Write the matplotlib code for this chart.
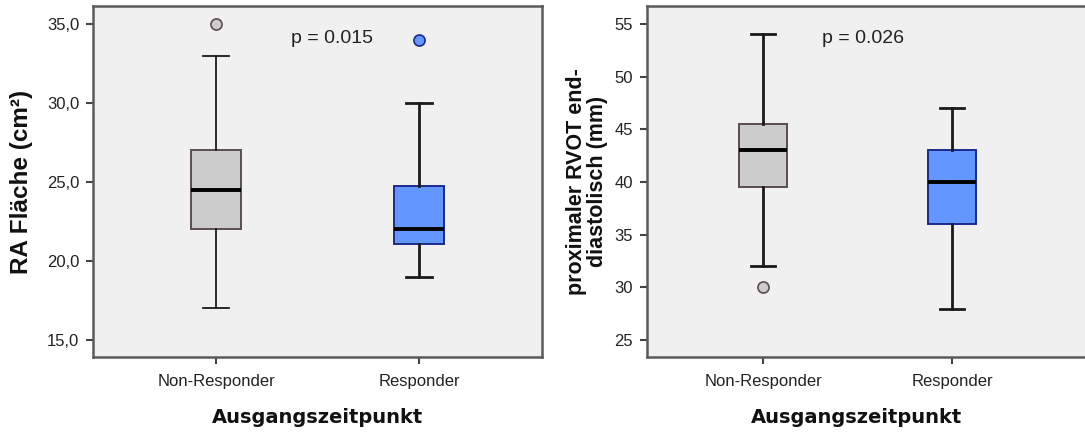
import matplotlib
matplotlib.use("Agg")
import matplotlib.pyplot as plt

plt.rcParams['font.family'] = ['Liberation Sans', 'DejaVu Sans']

groups = ["Non-Responder", "Responder"]

# RA Fläche (cm²)
ra_whislo = [17.0, 19.0]
ra_q1 = [22.0, 21.1]
ra_med = [24.5, 22.0]
ra_q3 = [27.0, 24.75]
ra_whishi = [33.0, 30.0]
ra_fliers = [[35.0], [34.0]]
ra_yticks = [15, 20, 25, 30, 35]
ra_p = "p = 0.015"

# proximaler RVOT enddiastolisch (mm)
rvot_whislo = [32.0, 28.0]
rvot_q1 = [39.5, 36.0]
rvot_med = [43.0, 40.0]
rvot_q3 = [45.5, 43.0]
rvot_whishi = [54.0, 47.0]
rvot_fliers = [[30.0], []]
rvot_yticks = [25, 30, 35, 40, 45, 50, 55]
rvot_p = "p = 0.026"

BG = "#f0f0f0"
GREY_FILL = "#cccccc"
GREY_EDGE = "#5a4d4d"
BLUE_FILL = "#6496ff"
BLUE_EDGE = "#1c2a8c"


def make_stats(whislo, q1, med, q3, whishi, fliers):
    stats = []
    for i in range(len(groups)):
        stats.append(dict(label=groups[i], whislo=whislo[i], q1=q1[i], med=med[i],
                          q3=q3[i], whishi=whishi[i], fliers=fliers[i]))
    return stats


def draw_panel(ax, stats, thin_first):
    fills = [GREY_FILL, BLUE_FILL]
    edges = [GREY_EDGE, BLUE_EDGE]
    for i, st in enumerate(stats):
        wlw = 1.3 if (i == 0 and thin_first) else 2.0
        ax.bxp([st], positions=[i + 1], widths=0.25, patch_artist=True,
               boxprops=dict(facecolor=fills[i], edgecolor=edges[i], linewidth=1.4),
               medianprops=dict(color="black", linewidth=2.8, solid_capstyle="butt"),
               whiskerprops=dict(color="#1a1a1a", linewidth=wlw),
               capprops=dict(color="#1a1a1a", linewidth=wlw),
               capwidths=0.13,
               flierprops=dict(marker="o", markersize=8, markerfacecolor=fills[i],
                               markeredgecolor=edges[i], markeredgewidth=1.2,
                               linestyle="none"),
               zorder=3)
    ax.set_facecolor(BG)
    for sp in ax.spines.values():
        sp.set_color("#5a5a5a")
        sp.set_linewidth(1.8)
    ax.tick_params(direction="out", length=5, width=1.5, color="#444444",
                   labelsize=12, labelcolor="#222222", pad=5)
    ax.tick_params(axis="x", pad=7)
    ax.set_xticks([1, 2])
    ax.set_xticklabels(groups)


fig = plt.figure(figsize=(10.85, 4.32), dpi=100)
W, H = 1085.0, 432.0

ax1 = fig.add_axes([93 / W, (H - 357) / H, 449 / W, 351 / H])
draw_panel(ax1, make_stats(ra_whislo, ra_q1, ra_med, ra_q3, ra_whishi, ra_fliers), True)
ax1.set_xlim(0.394, 2.606)
ax1.set_ylim(13.92, 36.14)
ax1.set_yticks(ra_yticks)
ax1.set_yticklabels([f"{v:.1f}".replace(".", ",") for v in ra_yticks])
ax1.set_ylabel("RA Fläche (cm²)", fontsize=17.5, fontweight="bold", color="#111111")
ax1.yaxis.set_label_coords(-0.134, 0.5)
ax1.set_xlabel("Ausgangszeitpunkt", fontsize=14, fontweight="bold",
               family="DejaVu Sans", color="#111111")
ax1.xaxis.set_label_coords(0.499, -0.146)
ax1.text(1.57, 34.1, ra_p, fontsize=14, ha="center", va="center", color="#222222")

ax2 = fig.add_axes([647 / W, (H - 357) / H, 443 / W, 351 / H])
draw_panel(ax2, make_stats(rvot_whislo, rvot_q1, rvot_med, rvot_q3, rvot_whishi, rvot_fliers), False)
ax2.set_xlim(0.386, 2.73)
ax2.set_ylim(23.4, 56.7)
ax2.set_yticks(rvot_yticks)
ax2.set_yticklabels([str(v) for v in rvot_yticks])
ax2.set_ylabel("proximaler RVOT end-\ndiastolisch (mm)", fontsize=15.5, fontweight="bold",
               color="#111111", linespacing=1.0)
ax2.yaxis.set_label_coords(-0.088, 0.5)
ax2.set_xlabel("Ausgangszeitpunkt", fontsize=14, fontweight="bold",
               family="DejaVu Sans", color="#111111")
ax2.xaxis.set_label_coords(0.472, -0.146)
ax2.text(1.53, 53.6, rvot_p, fontsize=14, ha="center", va="center", color="#222222")

fig.savefig("out.png", dpi=100, facecolor="white")
